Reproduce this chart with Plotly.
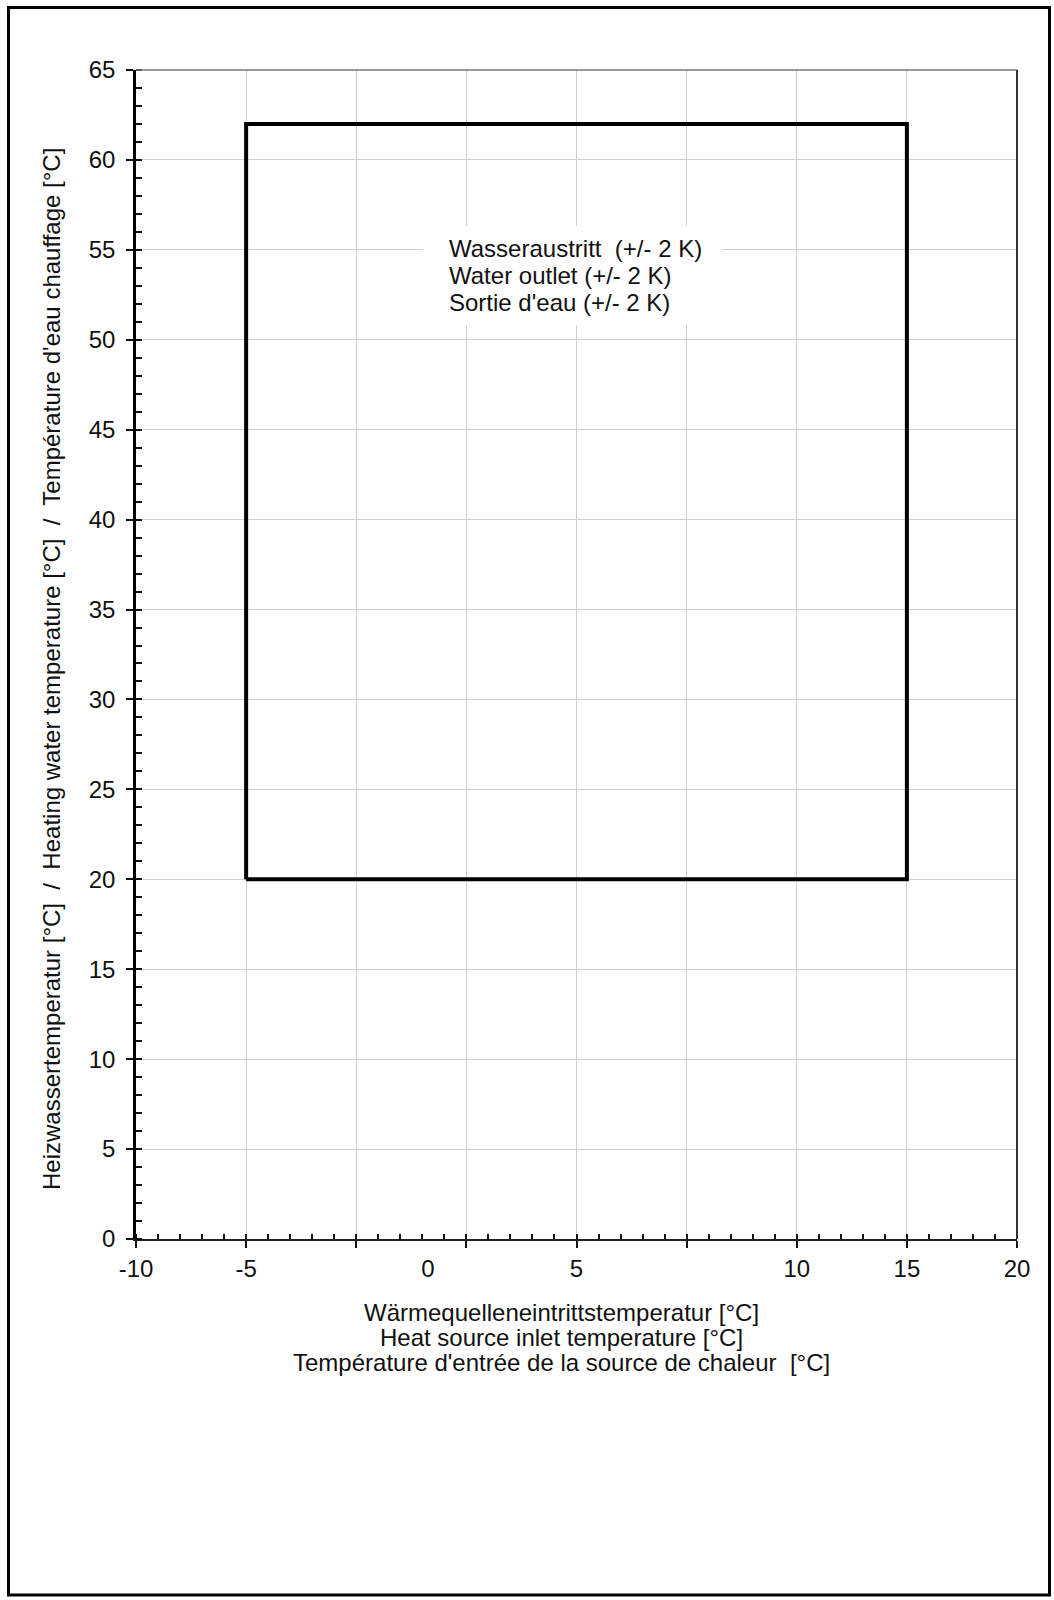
import plotly.graph_objects as go

# --- data -------------------------------------------------------------
# operating envelope (heat source inlet vs heating water outlet)
source_inlet_limits = [-5, 15]      # °C
water_outlet_limits = [20, 62]      # °C

# x tick labels and where they sit on the source-temperature scale (as printed)
x_tick_labels = ["-10", "-5", "0", "5", "10", "15", "20"]
x_tick_positions = [-25 / 3, -5, 0.5, 5, 35 / 3, 15, 55 / 3]
x_range = [-25 / 3, 55 / 3]
x_grid_start = -5
x_grid_step = 10 / 3
x_minor_step = 2 / 3

y_range = [0, 65]
y_major_step = 5
y_minor_step = 1

envelope_text = ["Wasseraustritt  (+/- 2 K)", "Water outlet (+/- 2 K)", "Sortie d'eau (+/- 2 K)"]
x_title_lines = ["Wärmequelleneintrittstemperatur [°C]",
                 "Heat source inlet temperature [°C]",
                 "Température d'entrée de la source de chaleur  [°C]"]
y_title = "Heizwassertemperatur [°C]  /  Heating water temperature [°C]  /  Température d'eau chauffage [°C]"

# --- figure -------------------------------------------------------------
FONT = "Liberation Sans, Arial, sans-serif"
FS = 24
W, H = 1054, 1600
L, R, T, B = 136, 37, 70, 361

x0, x1 = source_inlet_limits
y0, y1 = water_outlet_limits
env_x = [x0, x1, x1, x0, x0]
env_y = [y0, y0, y1, y1, y0]

fig = go.Figure()
fig.add_trace(go.Scatter(x=env_x, y=env_y, mode="lines",
                         line=dict(color="black", width=4),
                         hoverinfo="skip", showlegend=False))
# invisible trace for the label axis
fig.add_trace(go.Scatter(x=[x_range[0]], y=[y_range[0]], xaxis="x2", mode="markers",
                         marker=dict(opacity=0), hoverinfo="skip", showlegend=False))

fig.update_layout(
    width=W, height=H, autosize=False,
    margin=dict(l=L, r=R, t=T, b=B, pad=0),
    paper_bgcolor="white", plot_bgcolor="white",
    font=dict(family=FONT, size=FS, color="#111"),
    xaxis=dict(range=x_range, tickmode="linear", tick0=x_grid_start, dtick=x_grid_step,
               ticks="outside", ticklen=7, tickwidth=1.5, tickcolor="#111",
               showticklabels=False, showgrid=True, gridcolor="#cfcfcf", gridwidth=1,
               zeroline=False, showline=True, linecolor="#222", linewidth=2,
               minor=dict(ticks="inside", tick0=x_grid_start, dtick=x_minor_step,
                          ticklen=5, tickwidth=1.5, tickcolor="#111", showgrid=False),
               fixedrange=True),
    xaxis2=dict(range=x_range, overlaying="x", anchor="y", side="bottom",
                tickmode="array", tickvals=x_tick_positions, ticktext=x_tick_labels,
                ticks="", showgrid=False, zeroline=False, showline=False,
                ticklabelstandoff=13, tickfont=dict(family=FONT, size=FS, color="#111"),
                fixedrange=True),
    yaxis=dict(range=y_range, tickmode="linear", tick0=0, dtick=y_major_step,
               ticks="outside", ticklen=7, tickwidth=1.5, tickcolor="#111",
               showgrid=True, gridcolor="#cfcfcf", gridwidth=1,
               zeroline=False, showline=True, linecolor="black", linewidth=2.5,
               ticklabelstandoff=6, tickfont=dict(family=FONT, size=FS, color="#111"),
               minor=dict(ticks="inside", dtick=y_minor_step, ticklen=6, tickwidth=1.5,
                          tickcolor="#111", showgrid=False),
               fixedrange=True),
    showlegend=False,
)

pw, ph = W - L - R, H - T - B
def px_x(p):
    return (p - L) / pw
def px_y(p):
    return (H - B - p) / ph

shapes = [
    # plot-area top and right edges
    dict(type="line", xref="paper", yref="paper", x0=0, x1=1, y0=1, y1=1,
         line=dict(color="#777", width=1.5)),
    dict(type="line", xref="paper", yref="paper", x0=1, x1=1, y0=0, y1=1,
         line=dict(color="#333", width=2)),
    # white background behind the envelope note
    dict(type="rect", xref="paper", yref="paper", layer="above",
         x0=px_x(423), x1=px_x(722), y0=px_y(325), y1=px_y(226),
         line=dict(width=0), fillcolor="white"),
    # outer frame
    dict(type="rect", xref="paper", yref="paper",
         x0=px_x(8.5), x1=px_x(1049.5), y0=px_y(1595), y1=px_y(7.5),
         line=dict(color="black", width=3), fillcolor="rgba(0,0,0,0)"),
]
fig.update_layout(shapes=shapes)

annotations = []
for i, line in enumerate(envelope_text):
    annotations.append(dict(x=px_x(447), y=px_y(248 + 27.5 * i), xref="paper", yref="paper",
                            text=line, showarrow=False, xanchor="left", yanchor="middle",
                            font=dict(family=FONT, size=FS, color="#111")))
for i, line in enumerate(x_title_lines):
    annotations.append(dict(x=px_x(561), y=px_y(1312 + 25 * i), xref="paper", yref="paper",
                            text=line, showarrow=False, xanchor="center", yanchor="middle",
                            font=dict(family=FONT, size=FS, color="#111")))
annotations.append(dict(x=px_x(51), y=px_y(669), xref="paper", yref="paper", text=y_title,
                        textangle=-90, showarrow=False, xanchor="center", yanchor="middle",
                        font=dict(family=FONT, size=FS, color="#111")))
fig.update_layout(annotations=annotations)

fig.write_html("out.html")
